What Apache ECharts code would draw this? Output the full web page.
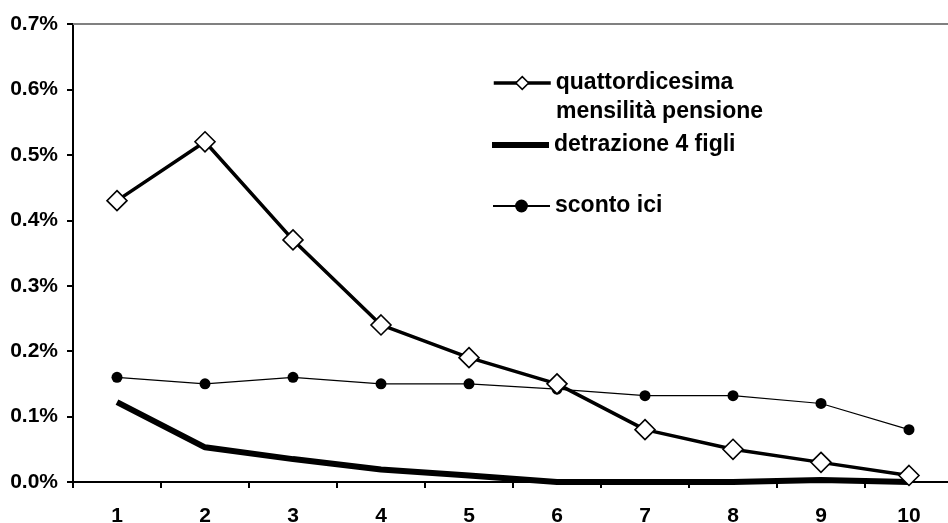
<!DOCTYPE html>
<html><head><meta charset="utf-8">
<script src="https://cdn.jsdelivr.net/npm/echarts@6/dist/echarts.min.js"></script>
<style>html,body{margin:0;padding:0;background:#fff}#c{width:948px;height:523px}</style>
</head><body><div id="c"></div>
<script>
const categories = ['1','2','3','4','5','6','7','8','9','10'];
const quattordicesima = [0.43,0.52,0.37,0.24,0.19,0.15,0.08,0.05,0.03,0.01];
const detrazione = [0.122,0.053,0.035,0.019,0.01,0.0,0.0,0.0,0.003,0.0];
const scontoIci = [0.16,0.15,0.16,0.15,0.15,0.142,0.132,0.132,0.12,0.08];
const names = ['quattordicesima','detrazione 4 figli','sconto ici'];

const font = 'Liberation Sans, Arial, sans-serif';
const chart = echarts.init(document.getElementById('c'));
const legendBase = {
  orient:'vertical', left: 492, padding: 0, itemWidth: 57, itemHeight: 16, itemGap: 6,
  textStyle:{fontFamily:font, fontWeight:'bold', fontSize:23, color:'#000', lineHeight:26},
  selectedMode:false
};
chart.setOption({
  animation:false,
  backgroundColor:'#fff',
  grid:{left:73, top:24, width:880, height:458, containLabel:false, outerBoundsMode:'none'},
  xAxis:[{
    type:'category', data:categories, boundaryGap:true, position:'bottom',
    axisLine:{lineStyle:{color:'#000', width:2}},
    axisTick:{show:true, length:6, inside:false, lineStyle:{color:'#000', width:2}},
    axisLabel:{fontFamily:font, fontWeight:'bold', fontSize:21, color:'#000', margin:24}
  },{
    type:'category', data:categories, position:'top',
    axisLine:{lineStyle:{color:'#808080', width:2}},
    axisTick:{show:false}, axisLabel:{show:false}
  }],
  yAxis:{
    type:'value', min:0, max:0.7, interval:0.1,
    axisLine:{show:true, lineStyle:{color:'#000', width:2}},
    axisTick:{show:true, length:6, lineStyle:{color:'#000', width:2}},
    splitLine:{show:false},
    axisLabel:{fontFamily:font, fontWeight:'bold', fontSize:21, color:'#000', margin:15,
      formatter:v=>v.toFixed(1)+'%'}
  },
  legend:[
    Object.assign({}, legendBase, {top:70, data:[{name:names[0], lineStyle:{width:3.5}, itemStyle:{color:'#fff', borderColor:'#000', borderWidth:1.5}}]}),
    Object.assign({}, legendBase, {top:132, itemHeight:6, data:[{name:names[1], icon:'rect', itemStyle:{color:'#000'}}]}),
    Object.assign({}, legendBase, {top:193, data:[{name:names[2], lineStyle:{width:2}}]})
  ],
  graphic:[{type:'text', left:556, top:100, style:{text:'mensilità pensione', font:'bold 23px Liberation Sans, Arial, sans-serif', fill:'#000'}}],
  series:[
    {name:names[2], type:'line', data:scontoIci, symbol:'circle', symbolSize:11,
      lineStyle:{color:'#000', width:1.2}, itemStyle:{color:'#000'}, z:2},
    {name:names[1], type:'line', data:detrazione, symbol:'none', clip:false,
      lineStyle:{color:'#000', width:6}, itemStyle:{color:'#000'}, z:3},
    {name:names[0], type:'line', data:quattordicesima, symbol:'diamond', symbolSize:20,
      lineStyle:{color:'#000', width:3.5}, itemStyle:{color:'#fff', borderColor:'#000', borderWidth:1.6}, z:4}
  ]
});
</script></body></html>
